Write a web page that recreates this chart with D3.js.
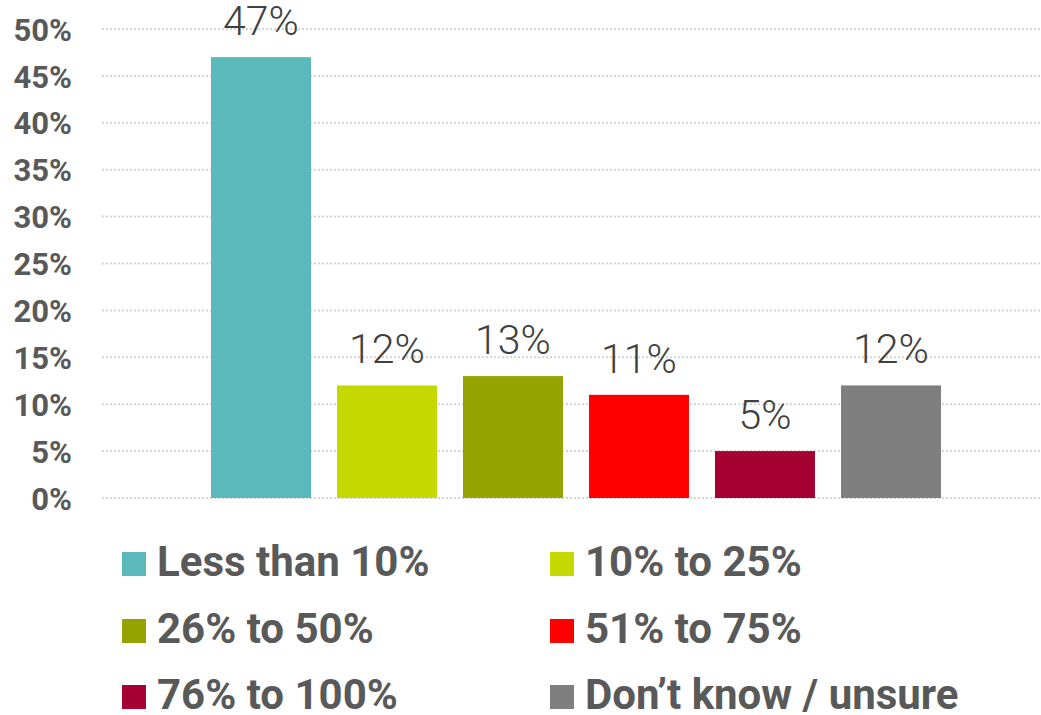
<!DOCTYPE html>
<html>
<head>
<meta charset="utf-8">
<script src="https://cdn.jsdelivr.net/npm/d3@7"></script>
<style>
	body { margin: 0; background: #fff; }
	svg { display: block; font-family: Roboto, "Noto Sans", sans-serif; }
</style>
</head>
<body>
<svg id="chart" width="1041" height="715"></svg>
<script>
var categories = ['Less than 10%', '10% to 25%', '26% to 50%', '51% to 75%', '76% to 100%', 'Don\u2019t know / unsure'];
var values = [47, 12, 13, 11, 5, 12];
var colors = ['#5BB8BB', '#C5D900', '#95A300', '#FF0000', '#A50034', '#7F7F7F'];
var yTicks = [0, 5, 10, 15, 20, 25, 30, 35, 40, 45, 50];

var svg = d3.select('#chart');

var plotLeft = 102, plotRight = 1041;
var y = d3.scaleLinear()
	.domain([0, 50])
	.range([498, 29]);

var x = d3.scaleBand()
	.domain(categories)
	.range([198, 954])
	.paddingInner(26 / 126)
	.paddingOuter(13 / 126);

// dotted gridlines
svg.append('g')
	.selectAll('line')
	.data(yTicks)
	.enter().append('line')
	.attr('x1', plotLeft)
	.attr('x2', plotRight)
	.attr('y1', function(d){ return y(d); })
	.attr('y2', function(d){ return y(d); })
	.style('stroke', '#D4D4D4')
	.style('stroke-width', 2)
	.style('stroke-dasharray', '2,2');

// y axis labels
var yAxis = d3.axisLeft(y)
	.tickValues(yTicks)
	.tickSize(0)
	.tickPadding(30)
	.tickFormat(function(d){ return d + '%'; });

var yG = svg.append('g')
	.attr('transform', 'translate(' + plotLeft + ',0)')
	.call(yAxis);
yG.select('.domain').remove();
yG.selectAll('text')
	.attr('dy', '0.36em')
	.style('font-family', 'Roboto, sans-serif')
	.style('font-size', '31px')
	.style('font-weight', 'bold')
	.style('fill', '#595959');

// bars
svg.append('g')
	.selectAll('rect')
	.data(values)
	.enter().append('rect')
	.attr('x', function(d, i){ return x(categories[i]); })
	.attr('y', function(d){ return y(d); })
	.attr('width', x.bandwidth())
	.attr('height', function(d){ return y(0) - y(d); })
	.style('fill', function(d, i){ return colors[i]; });

// value labels
svg.append('g')
	.selectAll('text')
	.data(values)
	.enter().append('text')
	.attr('x', function(d, i){ return x(categories[i]) + x.bandwidth() / 2; })
	.attr('y', function(d){ return y(d) - 22; })
	.attr('text-anchor', 'middle')
	.style('font-size', '41px')
	.style('font-weight', 300)
	.style('fill', '#404040')
	.text(function(d){ return d + '%'; });

// legend, 2 columns x 3 rows
var legendX = [122, 550];
var legendY = [552, 619, 685];
var legend = svg.append('g')
	.selectAll('g')
	.data(categories)
	.enter().append('g')
	.attr('transform', function(d, i){
		return 'translate(' + legendX[i % 2] + ',' + legendY[Math.floor(i / 2)] + ')';
	});

legend.append('rect')
	.attr('width', 24)
	.attr('height', 24)
	.style('fill', function(d, i){ return colors[i]; });

legend.append('text')
	.attr('x', 35)
	.attr('y', 24)
	.style('font-size', '42px')
	.style('font-weight', 'bold')
	.style('fill', '#595959')
	.text(function(d){ return d; });
</script>
</body>
</html>
